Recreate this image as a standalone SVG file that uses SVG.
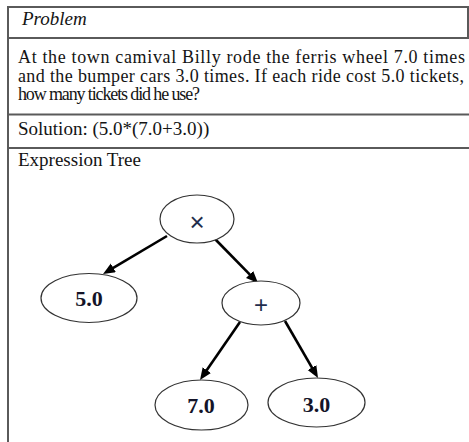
<svg xmlns="http://www.w3.org/2000/svg" width="469" height="442" viewBox="0 0 469 442">
  <style>
    .rule { stroke: #5a5a5a; stroke-width: 2; fill: none; }
    .txt { font-family: "Liberation Serif", "Times New Roman", serif; font-size: 19px; fill: #141414; }
    .body { font-size: 18px; }
    .node ellipse { fill: #ffffff; stroke: #333333; stroke-width: 1.2; }
    .val { font-family: "Liberation Serif", "Times New Roman", serif; font-size: 22px; font-weight: bold; fill: #141428; text-anchor: middle; }
    .op { font-family: "Liberation Sans", Arial, sans-serif; fill: #1f2d4d; text-anchor: middle; }
    .edge { stroke: #000000; stroke-width: 2.6; fill: none; }
  </style>
  <defs>
    <marker id="arrow" markerUnits="userSpaceOnUse" markerWidth="13" markerHeight="11" refX="6" refY="5" orient="auto">
      <path d="M0,0 L12,5 L0,10 z" fill="#000000"/>
    </marker>
  </defs>

  <rect width="469" height="442" fill="#ffffff"/>

  <!-- table rules -->
  <g id="table">
    <line class="rule" x1="8" y1="7" x2="469" y2="7"/>
    <line class="rule" x1="8" y1="38" x2="469" y2="38"/>
    <line class="rule" x1="8" y1="114.5" x2="469" y2="114.5"/>
    <line class="rule" x1="8" y1="148" x2="469" y2="148"/>
    <line class="rule" x1="8" y1="6" x2="8" y2="442"/>
    <line class="rule" x1="468" y1="6" x2="468" y2="38" stroke-width="1.2"/>
  </g>

  <!-- table text -->
  <g id="table-text">
    <text class="txt" x="22" y="25" font-style="italic">Problem</text>
    <text class="txt body" x="18" y="63" textLength="447" lengthAdjust="spacing">At the town camival Billy rode the ferris wheel 7.0 times</text>
    <text class="txt body" x="18" y="81.5" textLength="446" lengthAdjust="spacing">and the bumper cars 3.0 times. If each ride cost 5.0 tickets,</text>
    <text class="txt body" x="18" y="100" textLength="182" lengthAdjust="spacing">how many tickets did he use?</text>
    <text class="txt" x="18" y="135">Solution: (5.0*(7.0+3.0))</text>
    <text class="txt" x="18" y="166">Expression Tree</text>
  </g>

  <!-- connectors -->
  <g id="edges">
    <line class="edge" x1="167" y1="236" x2="108.2" y2="270.9" marker-end="url(#arrow)"/>
    <line class="edge" x1="215" y1="239" x2="253.8" y2="278.7" marker-end="url(#arrow)"/>
    <line class="edge" x1="240" y1="322" x2="203.4" y2="375.1" marker-end="url(#arrow)"/>
    <line class="edge" x1="285" y1="321" x2="315" y2="372.8" marker-end="url(#arrow)"/>
  </g>

  <!-- nodes -->
  <g id="node-times" class="node">
    <ellipse cx="197" cy="219" rx="37" ry="24"/>
    <text class="op" x="197" y="231" font-size="26">×</text>
  </g>
  <g id="node-5" class="node">
    <ellipse cx="89" cy="298" rx="48" ry="24.5"/>
    <text class="val" x="89" y="306">5.0</text>
  </g>
  <g id="node-plus" class="node">
    <ellipse cx="261" cy="303" rx="39" ry="22"/>
    <text class="op" x="261" y="313" font-size="24">+</text>
  </g>
  <g id="node-7" class="node">
    <ellipse cx="201.5" cy="405" rx="46.5" ry="25"/>
    <text class="val" x="201" y="413">7.0</text>
  </g>
  <g id="node-3" class="node">
    <ellipse cx="316.5" cy="402.5" rx="48.5" ry="24.5"/>
    <text class="val" x="316.5" y="412">3.0</text>
  </g>
</svg>
